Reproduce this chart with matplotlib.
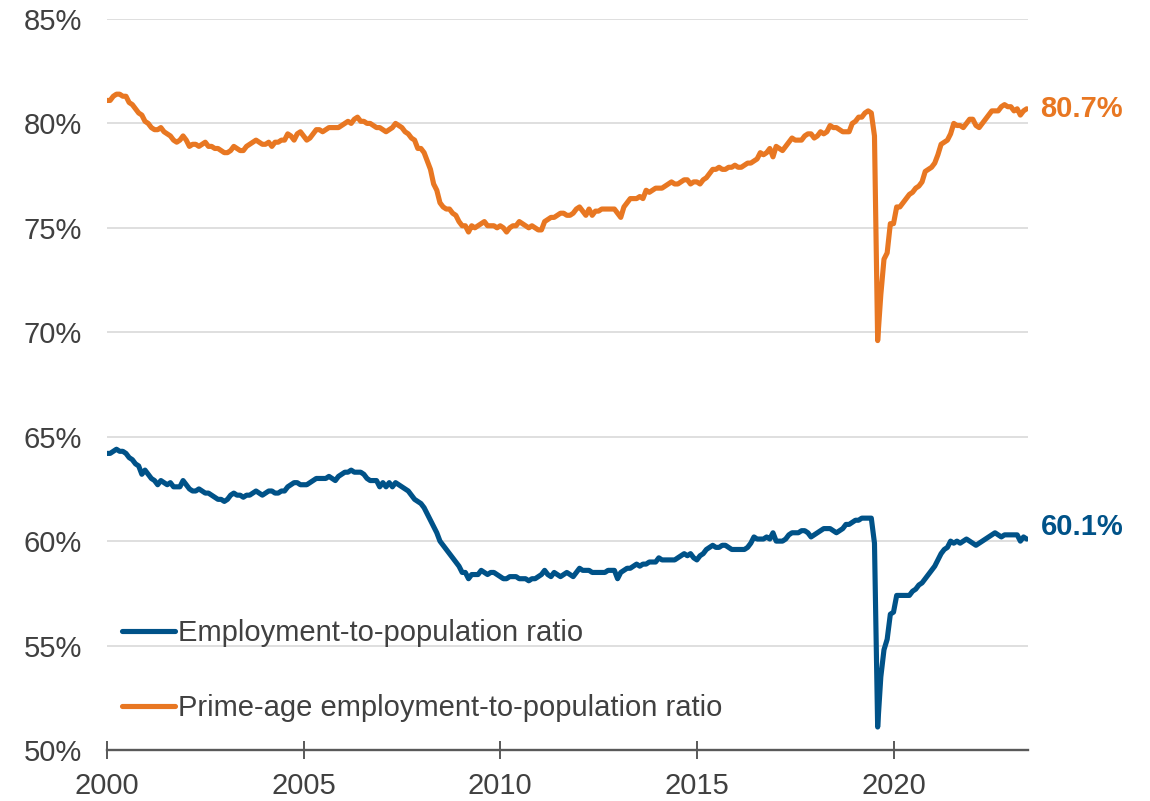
import matplotlib
matplotlib.use("Agg")
import matplotlib.pyplot as plt
from matplotlib.lines import Line2D

plt.rcParams['font.family'] = ['Liberation Sans', 'DejaVu Sans']

# monthly readings, Jan 2000 onward
epop = [
    64.2, 64.2, 64.3, 64.4, 64.3, 64.3, 64.2, 64.0, 63.9, 63.7, 63.6, 63.2,  # 2000
    63.4, 63.2, 63.0, 62.9, 62.7, 62.9, 62.8, 62.7, 62.8, 62.6, 62.6, 62.6,  # 2001
    62.9, 62.7, 62.5, 62.4, 62.4, 62.5, 62.4, 62.3, 62.3, 62.2, 62.1, 62.0,  # 2002
    62.0, 61.9, 62.0, 62.2, 62.3, 62.2, 62.2, 62.1, 62.2, 62.2, 62.3, 62.4,  # 2003
    62.3, 62.2, 62.3, 62.4, 62.4, 62.3, 62.3, 62.4, 62.4, 62.6, 62.7, 62.8,  # 2004
    62.8, 62.7, 62.7, 62.7, 62.8, 62.9, 63.0, 63.0, 63.0, 63.0, 63.1, 63.0,  # 2005
    62.9, 63.1, 63.2, 63.3, 63.3, 63.4, 63.3, 63.3, 63.3, 63.2, 63.0, 62.9,  # 2006
    62.9, 62.9, 62.6, 62.8, 62.6, 62.8, 62.6, 62.8, 62.7, 62.6, 62.5, 62.4,  # 2007
    62.2, 62.0, 61.9, 61.8, 61.6, 61.3, 61.0, 60.7, 60.4, 60.0, 59.8, 59.6,  # 2008
    59.4, 59.2, 59.0, 58.8, 58.5, 58.5, 58.2, 58.4, 58.4, 58.4, 58.6, 58.5,  # 2009
    58.4, 58.5, 58.5, 58.4, 58.3, 58.2, 58.2, 58.3, 58.3, 58.3, 58.2, 58.2,  # 2010
    58.2, 58.1, 58.2, 58.2, 58.3, 58.4, 58.6, 58.4, 58.3, 58.5, 58.4, 58.3,  # 2011
    58.4, 58.5, 58.4, 58.3, 58.5, 58.7, 58.6, 58.6, 58.6, 58.5, 58.5, 58.5,  # 2012
    58.5, 58.5, 58.6, 58.6, 58.6, 58.2, 58.5, 58.6, 58.7, 58.7, 58.8, 58.9,  # 2013
    58.8, 58.9, 58.9, 59.0, 59.0, 59.0, 59.2, 59.1, 59.1, 59.1, 59.1, 59.1,  # 2014
    59.2, 59.3, 59.4, 59.3, 59.4, 59.2, 59.1, 59.3, 59.4, 59.6, 59.7, 59.8,  # 2015
    59.7, 59.7, 59.8, 59.8, 59.7, 59.6, 59.6, 59.6, 59.6, 59.6, 59.7, 59.9,  # 2016
    60.2, 60.1, 60.1, 60.1, 60.2, 60.1, 60.4, 60.0, 60.0, 60.0, 60.1, 60.3,  # 2017
    60.4, 60.4, 60.4, 60.5, 60.5, 60.4, 60.2, 60.3, 60.4, 60.5, 60.6, 60.6,  # 2018
    60.6, 60.5, 60.4, 60.5, 60.6, 60.8, 60.8, 60.9, 61.0, 61.0, 61.1, 61.1,  # 2019
    61.1, 61.1, 59.9, 51.1, 53.5, 54.8, 55.3, 56.5, 56.6, 57.4, 57.4, 57.4,  # 2020
    57.4, 57.4, 57.6, 57.7, 57.9, 58.0, 58.2, 58.4, 58.6, 58.8, 59.1, 59.4,  # 2021
    59.6, 59.7, 60.0, 59.9, 60.0, 59.9, 60.0, 60.1, 60.0, 59.9, 59.8, 59.9,  # 2022
    60.0, 60.1, 60.2, 60.3, 60.4, 60.3, 60.2, 60.3, 60.3, 60.3, 60.3, 60.3,  # 2023
    60.0, 60.2, 60.1,                                                        # 2024
]

prime_epop = [
    81.1, 81.1, 81.3, 81.4, 81.4, 81.3, 81.3, 81.0, 80.9, 80.7, 80.5, 80.4,  # 2000
    80.1, 80.0, 79.8, 79.7, 79.7, 79.8, 79.6, 79.5, 79.4, 79.2, 79.1, 79.2,  # 2001
    79.4, 79.2, 78.9, 79.0, 79.0, 78.9, 79.0, 79.1, 78.9, 78.9, 78.8, 78.8,  # 2002
    78.7, 78.6, 78.6, 78.7, 78.9, 78.8, 78.7, 78.7, 78.9, 79.0, 79.1, 79.2,  # 2003
    79.1, 79.0, 79.0, 79.1, 78.9, 79.1, 79.1, 79.2, 79.2, 79.5, 79.4, 79.2,  # 2004
    79.5, 79.6, 79.4, 79.2, 79.3, 79.5, 79.7, 79.7, 79.6, 79.7, 79.8, 79.8,  # 2005
    79.8, 79.8, 79.9, 80.0, 80.1, 80.0, 80.2, 80.3, 80.1, 80.1, 80.0, 80.0,  # 2006
    79.9, 79.8, 79.8, 79.7, 79.6, 79.7, 79.8, 80.0, 79.9, 79.8, 79.6, 79.5,  # 2007
    79.3, 79.2, 78.8, 78.8, 78.6, 78.2, 77.8, 77.1, 76.8, 76.2, 76.0, 75.9,  # 2008
    75.9, 75.7, 75.6, 75.3, 75.1, 75.1, 74.8, 75.1, 75.0, 75.1, 75.2, 75.3,  # 2009
    75.1, 75.1, 75.1, 75.0, 75.1, 75.0, 74.8, 75.0, 75.1, 75.1, 75.3, 75.2,  # 2010
    75.1, 75.0, 75.1, 75.0, 74.9, 74.9, 75.3, 75.4, 75.5, 75.5, 75.6, 75.7,  # 2011
    75.7, 75.6, 75.6, 75.7, 75.9, 76.0, 75.8, 75.6, 75.9, 75.6, 75.8, 75.8,  # 2012
    75.9, 75.9, 75.9, 75.9, 75.9, 75.7, 75.5, 76.0, 76.2, 76.4, 76.4, 76.4,  # 2013
    76.5, 76.4, 76.8, 76.7, 76.8, 76.9, 76.9, 76.9, 77.0, 77.1, 77.2, 77.1,  # 2014
    77.1, 77.2, 77.3, 77.3, 77.1, 77.2, 77.2, 77.1, 77.3, 77.4, 77.6, 77.8,  # 2015
    77.8, 77.9, 77.8, 77.8, 77.9, 77.9, 78.0, 77.9, 77.9, 78.0, 78.1, 78.1,  # 2016
    78.2, 78.3, 78.6, 78.5, 78.6, 78.8, 78.4, 78.9, 78.8, 78.7, 78.9, 79.1,  # 2017
    79.3, 79.2, 79.2, 79.2, 79.4, 79.5, 79.5, 79.3, 79.4, 79.6, 79.5, 79.6,  # 2018
    79.9, 79.8, 79.8, 79.7, 79.6, 79.6, 79.6, 80.0, 80.1, 80.3, 80.3, 80.5,  # 2019
    80.6, 80.5, 79.4, 69.6, 71.8, 73.5, 73.8, 75.2, 75.2, 76.0, 76.0, 76.2,  # 2020
    76.4, 76.6, 76.7, 76.9, 77.0, 77.2, 77.7, 77.8, 77.9, 78.1, 78.5, 79.0,  # 2021
    79.1, 79.2, 79.5, 80.0, 79.9, 79.9, 79.8, 80.0, 80.2, 80.2, 79.9, 79.8,  # 2022
    80.0, 80.2, 80.4, 80.6, 80.6, 80.6, 80.8, 80.9, 80.8, 80.8, 80.6, 80.7,  # 2023
    80.4, 80.6, 80.7,                                                        # 2024
]

series_labels = ["Employment-to-population ratio",
                 "Prime-age employment-to-population ratio"]
year_labels = ["2000", "2005", "2010", "2015", "2020"]
year_ticks = [0, 62, 124, 186, 248]
y_ticks = [50, 55, 60, 65, 70, 75, 80, 85]

BLUE = "#005288"
ORANGE = "#E87722"
GREY = "#404040"

months = list(range(len(epop)))

fig = plt.figure(figsize=(11.5, 8.01), dpi=100)
ax = fig.add_axes([0.093, 0.0637, 0.8009, 0.9126])

ax.plot(months, epop, color=BLUE, lw=3.7, solid_capstyle="round",
        solid_joinstyle="round", zorder=3)
ax.plot(months, prime_epop, color=ORANGE, lw=3.7, solid_capstyle="round",
        solid_joinstyle="round", zorder=3)

ax.set_xlim(0, 290.4)
ax.set_ylim(50, 85)
ax.set_yticks(y_ticks)
ax.set_yticklabels([f"{v}%" for v in y_ticks])
ax.set_xticks(year_ticks)
ax.set_xticklabels(year_labels)

ax.grid(axis="y", color="#d9d9d9", lw=1.2, zorder=0)
ax.set_axisbelow(True)
for side in ["top", "right", "left"]:
    ax.spines[side].set_visible(False)
ax.spines["bottom"].set_color("#595959")
ax.spines["bottom"].set_linewidth(1.7)
ax.spines["bottom"].set_zorder(4)

ax.tick_params(axis="y", length=0, pad=18, labelsize=21, labelcolor=GREY)
ax.tick_params(axis="x", direction="inout", length=13, width=1.4,
               color="#595959", pad=9, labelsize=21, labelcolor=GREY)

# end-of-series value labels
ax.annotate(f"{prime_epop[-1]:.1f}%", xy=(months[-1], prime_epop[-1]),
            xytext=(10, 0), textcoords="offset points", va="center", ha="left",
            color=ORANGE, fontsize=21, fontweight="bold", annotation_clip=False)
ax.annotate(f"{epop[-1]:.1f}%", xy=(months[-1], epop[-1]),
            xytext=(10, 9), textcoords="offset points", va="center", ha="left",
            color=BLUE, fontsize=21, fontweight="bold", annotation_clip=False)

handles = [Line2D([], [], color=BLUE, lw=3.7, solid_capstyle="round"),
           Line2D([], [], color=ORANGE, lw=3.7, solid_capstyle="round")]
leg = ax.legend(handles, series_labels, loc="lower left",
                bbox_to_anchor=(0.004, 0.022), frameon=False, fontsize=21,
                handlelength=1.8, handletextpad=0.12, labelspacing=1.62,
                borderaxespad=0.0)
for t in leg.get_texts():
    t.set_color(GREY)

fig.savefig("out.png", dpi=100)
